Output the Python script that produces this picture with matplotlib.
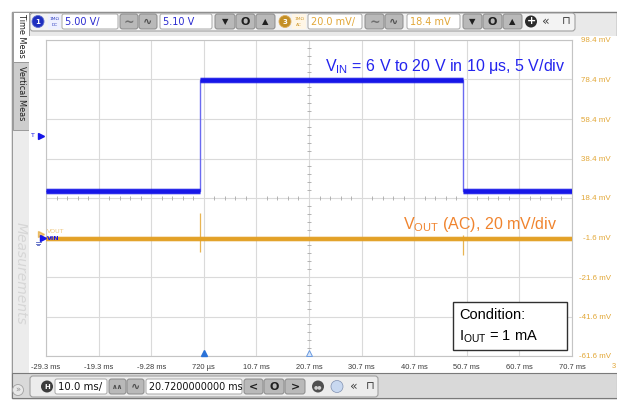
import matplotlib
matplotlib.use("Agg")
import matplotlib.pyplot as plt
from matplotlib.patches import Rectangle, FancyBboxPatch, Circle

W, H = 617, 400

# ---- data ----
# channel 1: VIN (volts), 5 V/div, offset 5.10 V
vin_t = [-29.28, 0.0, 0.0, 50.0, 50.0, 70.72]
vin_v = [6.0, 6.0, 20.0, 20.0, 6.0, 6.0]
ch1_offset = 5.10
ch1_scale = 5.0
trig_level = 13.0
trig_time = 0.72

# channel 3: VOUT (AC, mV), 20 mV/div, offset 18.4 mV
vout_t = [-29.28, 70.72]
vout_mv = [-2.5, -2.5]
spike_t = [0.0, 50.0]
spike_hi = [11.0, -0.5]
spike_lo = [-9.0, -10.5]
ch3_offset = 18.4
ch3_scale = 20.0

x_ticks = [-29.28, -19.28, -9.28, 0.72, 10.72, 20.72, 30.72, 40.72, 50.72, 60.72, 70.72]
x_labels = ["-29.3 ms", "-19.3 ms", "-9.28 ms", "720 \u00b5s", "10.7 ms", "20.7 ms",
            "30.7 ms", "40.7 ms", "50.7 ms", "60.7 ms", "70.7 ms"]
y_ticks = [98.4, 78.4, 58.4, 38.4, 18.4, -1.6, -21.6, -41.6, -61.6]
y_labels = ["98.4 mV", "78.4 mV", "58.4 mV", "38.4 mV", "18.4 mV", "-1.6 mV",
            "-21.6 mV", "-41.6 mV", "-61.6 mV"]

BLUE = "#1616e8"
GOLD = "#e3a126"
LBL_GOLD = "#e2a737"
ORANGE = "#f0842e"
NARROW = ["Liberation Sans Narrow", "Liberation Sans"]

plt.rcParams["mathtext.fontset"] = "custom"
plt.rcParams["mathtext.rm"] = "Liberation Sans"
plt.rcParams["mathtext.it"] = "Liberation Sans"

fig = plt.figure(figsize=(W / 100, H / 100), dpi=100)
fig.patch.set_facecolor("white")

# background layer in pixel coordinates
bg = fig.add_axes([0, 0, 1, 1], zorder=0)
bg.set_xlim(0, W)
bg.set_ylim(H, 0)
bg.axis("off")

fg = fig.add_axes([0, 0, 1, 1], zorder=5)
fg.set_xlim(0, W)
fg.set_ylim(H, 0)
fg.axis("off")
fg.patch.set_visible(False)


def rect(a, x0, y0, x1, y1, fc, ec="none", lw=0.8, r=0):
    if r:
        p = FancyBboxPatch((x0, y0), x1 - x0, y1 - y0,
                           boxstyle="round,pad=0,rounding_size=%g" % r,
                           fc=fc, ec=ec, lw=lw)
    else:
        p = Rectangle((x0, y0), x1 - x0, y1 - y0, fc=fc, ec=ec, lw=lw)
    a.add_patch(p)
    return p


def button(a, x0, x1, y0, y1, glyph, gsize=7, gcol="#202020"):
    rect(a, x0, y0, x1, y1, "#b9b9b9", "#8a8a8a", 0.7, r=2.5)
    a.text((x0 + x1) / 2, (y0 + y1) / 2 + 0.5, glyph, ha="center", va="center",
           fontsize=gsize, color=gcol, fontweight="bold")


def field(a, x0, x1, y0, y1, txt, col, size=7):
    rect(a, x0, y0, x1, y1, "white", "#a8a8a8", 0.7, r=2)
    a.text(x0 + 3, (y0 + y1) / 2 + 0.5, txt, ha="left", va="center",
           fontsize=size, color=col)


# window frame
rect(bg, 12, 12, W, 398, "#e9e9e9", "#7a7a7a", 1.0)
# left tab column
rect(bg, 12, 12, 29, 398, "#ececec", "#9a9a9a", 0.7)
rect(bg, 13, 12, 29, 62, "white", "#9a9a9a", 0.7)
rect(bg, 13, 62, 29, 130, "#cdcdcd", "#9a9a9a", 0.7)
bg.text(21, 14, "Time Meas", rotation=-90, ha="center", va="top", fontsize=5.9,
        color="#202020")
bg.text(21, 66, "Vertical Meas", rotation=-90, ha="center", va="top", fontsize=5.9,
        color="#202020")
bg.text(21, 222, "Measurements", rotation=-90, ha="center", va="top", fontsize=10,
        color="#d6d6d6", style="italic")
# white screen region (plot + label gutters)
rect(bg, 29, 36, W, 373, "white")

# top toolbar
rect(bg, 30, 13, 575, 31, "#f3f3f3", "#a0a0a0", 0.8, r=3)
bg.add_patch(Circle((38, 21.5), 6, fc="#1f2fbf", ec="#6070d0", lw=0.6))
bg.text(38, 22, "1", ha="center", va="center", fontsize=5, color="white", fontweight="bold")
rect(bg, 48, 14, 61, 29, "#eef0ff", "none")
bg.text(54.5, 18.5, "1M\u03a9", ha="center", va="center", fontsize=3.2, color="#3040c0")
bg.text(54.5, 25, "DC", ha="center", va="center", fontsize=3.2, color="#3040c0")
field(bg, 62, 118, 14, 29, "5.00 V/", "#2a2ad0")
button(bg, 120, 138, 14, 29, "~", 9, "#707070")
button(bg, 139, 157, 14, 29, "\u223f", 8, "#505050")
field(bg, 160, 212, 14, 29, "5.10 V", "#2a2ad0")
button(bg, 215, 235, 14, 29, "\u25bc", 6)
button(bg, 236, 255, 14, 29, "O", 8)
button(bg, 256, 275, 14, 29, "\u25b2", 6)
bg.add_patch(Circle((285, 21.5), 6, fc="#c38f26", ec="#e0b060", lw=0.6))
bg.text(285, 22, "3", ha="center", va="center", fontsize=5, color="white", fontweight="bold")
rect(bg, 292, 14, 306, 29, "#fff6e6", "none")
bg.text(299, 18.5, "1M\u03a9", ha="center", va="center", fontsize=3.2, color="#d09a30")
bg.text(299, 25, "AC", ha="center", va="center", fontsize=3.2, color="#d09a30")
field(bg, 308, 362, 14, 29, "20.0 mV/", LBL_GOLD)
button(bg, 365, 384, 14, 29, "~", 9, "#707070")
button(bg, 385, 403, 14, 29, "\u223f", 8, "#505050")
field(bg, 407, 460, 14, 29, "18.4 mV", LBL_GOLD)
button(bg, 463, 482, 14, 29, "\u25bc", 6)
button(bg, 483, 502, 14, 29, "O", 8)
button(bg, 503, 522, 14, 29, "\u25b2", 6)
bg.add_patch(Circle((531, 21.5), 6, fc="#2c2c2c", ec="none"))
bg.text(531, 21.5, "+", ha="center", va="center", fontsize=8, color="white", fontweight="bold")
bg.text(546, 21.5, "\u00ab", ha="center", va="center", fontsize=9, color="#404040")
bg.text(566, 21.5, "\u2293", ha="center", va="center", fontsize=8, color="#404040")

# bottom toolbar
rect(bg, 12, 373, W, 398, "#d9d9d9", "#7a7a7a", 0.8)
bg.add_patch(Circle((18, 390), 5.5, fc="#e8e8e8", ec="#a0a0a0", lw=0.6))
bg.text(18, 390, "\u00bb", ha="center", va="center", fontsize=6, color="#909090")
rect(bg, 30, 376, 378, 397, "#ececec", "#a0a0a0", 0.8, r=3)
bg.add_patch(Circle((47, 386.5), 6, fc="#3c3c3c", ec="none"))
bg.text(47, 387, "H", ha="center", va="center", fontsize=5, color="white", fontweight="bold")
field(bg, 55, 107, 379, 394, "10.0 ms/", "#101010", 7.3)
button(bg, 109, 126, 379, 394, "\u2227\u2227", 5, "#505050")
button(bg, 127, 144, 379, 394, "\u223f", 8, "#505050")
field(bg, 146, 242, 379, 394, "20.7200000000 ms", "#101010", 6.9)
button(bg, 244, 263, 379, 394, "<", 8)
button(bg, 264, 284, 379, 394, "O", 8)
button(bg, 285, 305, 379, 394, ">", 8)
bg.add_patch(Circle((318, 386.5), 6, fc="#505050", ec="none"))
bg.text(318, 386.5, "\u25cf\u25cf", ha="center", va="center", fontsize=3.5, color="#d0d0d0")
bg.add_patch(Circle((337, 386.5), 6, fc="#c8d8f0", ec="#8090b0", lw=0.5))
bg.text(354, 386.5, "\u00ab", ha="center", va="center", fontsize=9, color="#404040")
bg.text(370, 386.5, "\u2293", ha="center", va="center", fontsize=8, color="#404040")

# ---- main scope graticule (channel 3 scale) ----
ax = fig.add_axes([46 / W, 1 - 356 / H, 526 / W, 316 / H], zorder=2)
ax2 = ax.twinx()  # channel 1 scale

ax.set_xlim(x_ticks[0], x_ticks[-1])
ax.set_ylim(ch3_offset - 4 * ch3_scale, ch3_offset + 4 * ch3_scale)
ax.set_xticks(x_ticks, labels=x_labels)
ax.set_yticks(y_ticks, labels=y_labels)
ax.yaxis.tick_right()
ax.tick_params(axis="x", length=0, pad=6, labelsize=5.4, labelcolor="#3a3a3a")
ax.tick_params(axis="y", length=0, pad=28, labelsize=5.7, labelcolor=LBL_GOLD,
               left=False, labelleft=False, right=True, labelright=True)
for lbl in ax.get_xticklabels():
    lbl.set_fontfamily(NARROW)
for lbl in ax.get_yticklabels():
    lbl.set_fontfamily(NARROW)
    lbl.set_ha("right")
ax.grid(True, color="#dadada", lw=0.8)
ax.set_axisbelow(True)
for s in ax.spines.values():
    s.set_color("#c4c4c4")
    s.set_linewidth(0.8)

# minor ticks on the centre lines
xc = x_ticks[5]
yc = ch3_offset
minor_x = [x_ticks[0] + 2 * i for i in range(1, 50) if (i % 5) != 0]
minor_y = [y_ticks[-1] + 4 * i for i in range(1, 40) if (i % 5) != 0]
ax.plot(minor_x, [yc] * len(minor_x), ls="none", marker="|", ms=3, mew=0.6, color="#a8a8a8")
ax.plot([xc] * len(minor_y), minor_y, ls="none", marker="_", ms=3, mew=0.6, color="#a8a8a8")

# VOUT trace
ax.plot(vout_t, vout_mv, color=GOLD, lw=2.8, solid_capstyle="butt", zorder=3)
ax.plot(vout_t, vout_mv, color=GOLD, lw=4.0, alpha=0.35, solid_capstyle="butt", zorder=3)
ax.vlines(spike_t, spike_lo, spike_hi, color=GOLD, lw=0.9, alpha=0.8, zorder=3)

# VIN trace on channel 1 scale
ax2.set_ylim(ch1_offset - 4 * ch1_scale, ch1_offset + 4 * ch1_scale)
ax2.set_yticks([])
ax2.tick_params(axis="y", left=False, right=False, labelleft=False, labelright=False)
for s in ax2.spines.values():
    s.set_visible(False)
ax2.plot(vin_t, vin_v, color="#6a6af0", lw=1.0, zorder=2)
for i in range(0, len(vin_t), 2):
    ax2.plot(vin_t[i:i + 2], vin_v[i:i + 2], color=BLUE, lw=3.4, solid_capstyle="butt", zorder=3)
    ax2.plot(vin_t[i:i + 2], vin_v[i:i + 2], color=BLUE, lw=4.8, alpha=0.3, solid_capstyle="butt", zorder=3)

# trigger level, ground markers and time markers
x_left = x_ticks[0]
ax2.plot([x_left - 1.0], [trig_level], marker=">", ms=5, color=BLUE, clip_on=False)
ax2.text(x_left - 2.2, trig_level, "T", ha="right", va="center", fontsize=4.5,
         color=BLUE, clip_on=False)
ax2.plot([x_left - 0.6], [0.0], marker=">", ms=4, color=BLUE, clip_on=False, zorder=6)
ax2.text(x_left + 0.1, 0.0, "VIN", ha="left", va="center", fontsize=4.5, color=BLUE,
         fontweight="bold", clip_on=False, zorder=6)
ax.text(x_left + 0.1, 0.0, "VOUT", ha="left", va="bottom", fontsize=4.5, color=GOLD,
        alpha=0.6, clip_on=False, zorder=6)
ax.plot([x_left - 0.9], [0.0], marker=">", ms=4, color=GOLD, alpha=0.6, clip_on=False)
for k, wdt in enumerate([5, 3.5, 2]):
    fg.plot([38 - wdt / 2, 38 + wdt / 2], [242 + 1.6 * k] * 2, color="#5060c0", lw=0.6)
ax.plot([trig_time], [y_ticks[-1] + 1.3], marker="^", ms=5, color="#2a72d8",
        clip_on=False, zorder=6)
ax.plot([xc], [y_ticks[-1] + 1.3], marker="^", ms=5, mfc="#dbe8fa", mec="#6a9ae0",
        mew=0.7, clip_on=False, zorder=6)
fg.text(612, 367, "3", ha="left", va="center", fontsize=5.4, color=LBL_GOLD,
        fontfamily=NARROW)

# annotations
fg.text(565, 66, r"V$_{\mathrm{IN}}$ = 6 V to 20 V in 10 $\mathrm{\mu}$s, 5 V/div",
        ha="right", va="center", fontsize=11.5, color="#2424ee",
        fontfamily="Liberation Sans")
fg.text(557, 225, r"V$_{\mathrm{OUT}}$ (AC), 20 mV/div", ha="right", va="center",
        fontsize=11.5, color=ORANGE, fontfamily="Liberation Sans")
rect(fg, 453, 302, 567, 350, "white", "#303030", 1.0)
fg.text(459, 315, "Condition:", ha="left", va="center", fontsize=10.5,
        color="black", fontfamily="Liberation Sans")
fg.text(459, 337, r"I$_{\mathrm{OUT}}$ = 1 mA", ha="left", va="center", fontsize=10.5,
        color="black", fontfamily="Liberation Sans")

fig.savefig("out.png", dpi=100)
